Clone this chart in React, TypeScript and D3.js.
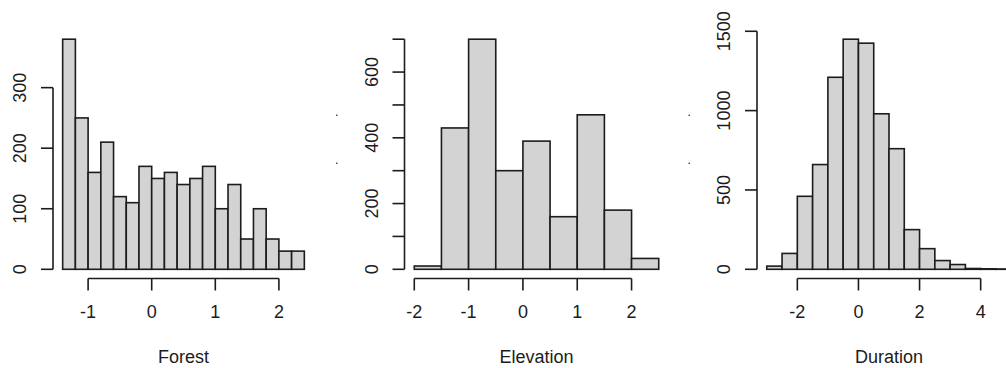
import * as d3 from 'd3';

// bin edges and counts
const forestBreaks = [-1.4, -1.2, -1.0, -0.8, -0.6, -0.4, -0.2, 0, 0.2, 0.4, 0.6, 0.8, 1.0, 1.2, 1.4, 1.6, 1.8, 2.0, 2.2, 2.4];
const forestCounts = [380, 250, 160, 210, 120, 110, 170, 150, 160, 140, 150, 170, 100, 140, 50, 100, 50, 30, 30];
const forestXTicks = [-1, 0, 1, 2];
const forestYTicks = [0, 100, 200, 300];
const forestYLabels = [0, 100, 200, 300];

const elevationBreaks = [-2, -1.5, -1, -0.5, 0, 0.5, 1, 1.5, 2, 2.5];
const elevationCounts = [10, 430, 700, 300, 390, 160, 470, 180, 33];
const elevationXTicks = [-2, -1, 0, 1, 2];
const elevationYTicks = [0, 100, 200, 300, 400, 500, 600, 700];
const elevationYLabels = [0, 200, 400, 600];

const durationBreaks = [-3, -2.5, -2, -1.5, -1, -0.5, 0, 0.5, 1, 1.5, 2, 2.5, 3, 3.5, 4, 4.5, 5];
const durationCounts = [20, 100, 460, 660, 1210, 1450, 1425, 980, 760, 250, 130, 55, 30, 5, 3, 2];
const durationXTicks = [-2, 0, 2, 4];
const durationYTicks = [0, 500, 1000, 1500];
const durationYLabels = [0, 500, 1000, 1500];

const titles = ['Forest', 'Elevation', 'Duration'];

const W = 1006;
const H = 368;
const FONT = '"Liberation Sans", Arial, sans-serif';
const INK = '#1c1c1c';

type Panel = {
  title: string;
  breaks: number[];
  counts: number[];
  xTicks: number[];
  yTicks: number[];
  yLabels: number[];
  left: number;
  right: number;
};

const panels: Panel[] = [
  { title: titles[0], breaks: forestBreaks, counts: forestCounts, xTicks: forestXTicks, yTicks: forestYTicks, yLabels: forestYLabels, left: 53, right: 314 },
  { title: titles[1], breaks: elevationBreaks, counts: elevationCounts, xTicks: elevationXTicks, yTicks: elevationYTicks, yLabels: elevationYLabels, left: 404.5, right: 668.5 },
  { title: titles[2], breaks: durationBreaks, counts: durationCounts, xTicks: durationXTicks, yTicks: durationYTicks, yLabels: durationYLabels, left: 757, right: 1021 },
];

const plotTop = 30;
const plotBottom = 278.5;

// R style 4% axis extension
function extend(lo: number, hi: number): [number, number] {
  const pad = (hi - lo) * 0.04;
  return [lo - pad, hi + pad];
}

function Histogram({ p }: { p: Panel }) {
  const xMin = p.breaks[0];
  const xMax = p.breaks[p.breaks.length - 1];
  const x = d3.scaleLinear().domain(extend(xMin, xMax)).range([p.left, p.right]);
  const y = d3.scaleLinear().domain(extend(0, d3.max(p.counts) as number)).range([plotBottom, plotTop]);
  const bins = p.counts.map((c, i) => ({ x0: p.breaks[i], x1: p.breaks[i + 1], c }));
  const tick = 12;

  return (
    <g>
      {bins.map((b, i) => (
        <rect
          key={i}
          x={x(b.x0)}
          y={y(b.c)}
          width={x(b.x1) - x(b.x0)}
          height={y(0) - y(b.c)}
          fill="#d3d3d3"
          stroke={INK}
          strokeWidth={1.6}
        />
      ))}

      {/* x axis */}
      <line x1={x(p.xTicks[0])} x2={x(p.xTicks[p.xTicks.length - 1])} y1={plotBottom} y2={plotBottom} stroke={INK} strokeWidth={1.6} />
      {p.xTicks.map(t => (
        <g key={t}>
          <line x1={x(t)} x2={x(t)} y1={plotBottom} y2={plotBottom + tick} stroke={INK} strokeWidth={1.6} />
          <text x={x(t)} y={318} textAnchor="middle" fontSize={18} fontFamily={FONT} fill={INK}>{t}</text>
        </g>
      ))}

      {/* y axis */}
      <line x1={p.left} x2={p.left} y1={y(p.yTicks[0])} y2={y(p.yTicks[p.yTicks.length - 1])} stroke={INK} strokeWidth={1.6} />
      {p.yTicks.map(t => (
        <line key={t} x1={p.left - tick} x2={p.left} y1={y(t)} y2={y(t)} stroke={INK} strokeWidth={1.6} />
      ))}
      {p.yLabels.map(t => (
        <text
          key={t}
          transform={`translate(${p.left - 27},${y(t)}) rotate(-90)`}
          textAnchor="middle"
          fontSize={18}
          fontFamily={FONT}
          fill={INK}
        >
          {t}
        </text>
      ))}

      <text x={(p.left + p.right) / 2} y={363} textAnchor="middle" fontSize={18} fontFamily={FONT} fill={INK}>
        {p.title}
      </text>
    </g>
  );
}

export default function App() {
  return (
    <svg width={W} height={H} style={{ position: 'absolute', left: 0, top: 0, background: '#fff' }}>
      <rect width={W} height={H} fill="#fff" />
      {panels.map(p => <Histogram key={p.title} p={p} />)}
      {/* stray specks seen in the reference between panels */}
      {[336, 688.5].map(cx => [114.5, 162.5].map(cy => (
        <rect key={`${cx}-${cy}`} x={cx} y={cy} width={1.5} height={1.5} fill="#4848a8" />
      )))}
    </svg>
  );
}
